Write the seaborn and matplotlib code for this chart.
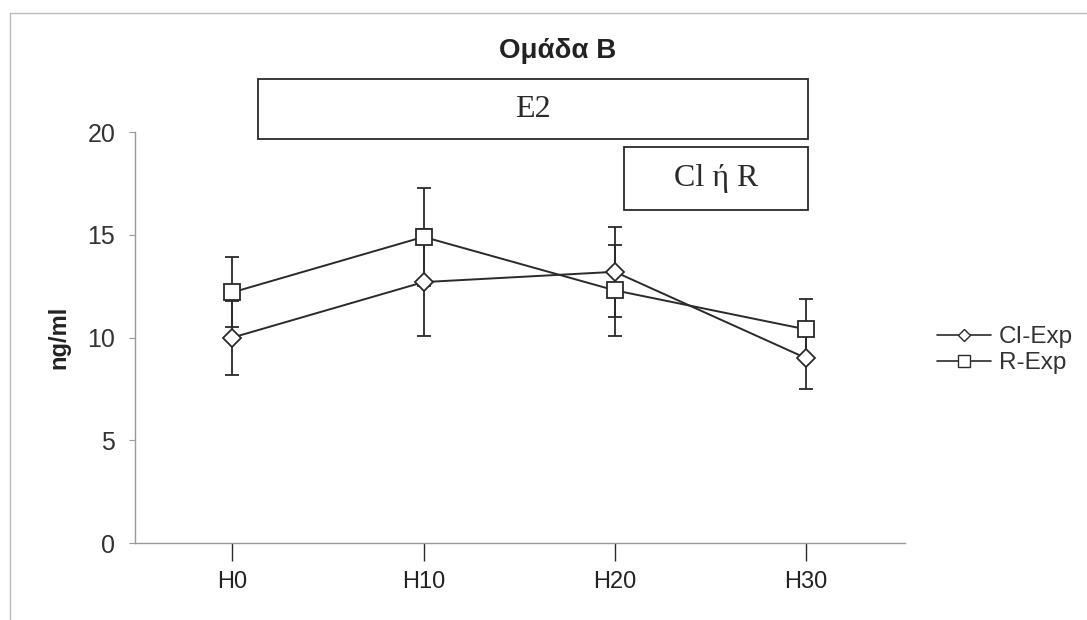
import pandas as pd
import matplotlib
matplotlib.use("Agg")
import matplotlib.pyplot as plt
from matplotlib.patches import Rectangle
from matplotlib.lines import Line2D
import seaborn as sns

sns.set_style("white")
plt.rcParams["font.family"] = ["Liberation Sans", "DejaVu Sans"]

# data
times = ["H0", "H10", "H20", "H30"]
cl_mean = [10.0, 12.7, 13.2, 9.0]
cl_err = [1.8, 2.6, 2.2, 1.5]
r_mean = [12.2, 14.9, 12.3, 10.4]
r_err = [1.7, 2.4, 2.2, 1.5]
series = ["CI-Exp", "R-Exp"]

df = pd.DataFrame({
    "time": times * 2,
    "pos": list(range(len(times))) * 2,
    "value": cl_mean + r_mean,
    "err": cl_err + r_err,
    "series": [series[0]] * 4 + [series[1]] * 4,
})

ink = "#2a2a2a"
fig = plt.figure(figsize=(10.87, 6.2), dpi=100)
ax = fig.add_axes([0.124, 0.124, 0.709, 0.663])

sns.lineplot(data=df, x="pos", y="value", style="series",
             markers={"CI-Exp": "D", "R-Exp": "s"}, dashes=False,
             color=ink, linewidth=1.4, legend=False, ax=ax, zorder=3)
# seaborn sets one size for all markers; tune per series
for ln, ms in zip(ax.lines, [9, 11]):
    ln.set_markersize(ms)
    ln.set_markerfacecolor("white")
    ln.set_markeredgecolor(ink)
    ln.set_markeredgewidth(1.3)

# errorbars are given, so draw them straight from the arrays
for s in series:
    d = df[df["series"] == s]
    ax.errorbar(d["pos"], d["value"], yerr=d["err"], fmt="none",
                ecolor=ink, elinewidth=1.3, capsize=5, capthick=1.3, zorder=2)

ax.set_xlim(-0.51, 3.52)
ax.set_ylim(0, 20)
ax.set_xticks(range(len(times)))
ax.set_xticklabels(times)
ax.set_yticks([0, 5, 10, 15, 20])
ax.tick_params(axis="y", labelsize=18, length=4, color="#999", pad=10, direction="out", left=True,
               labelcolor="#333")
ax.tick_params(axis="x", labelsize=17, length=13, width=1, color=ink, pad=7, direction="out",
               bottom=True, labelcolor="#222")
ax.set_xlabel("")
ax.set_ylabel("ng/ml", fontsize=17, fontweight="bold", labelpad=12, color="#222")
for sp in ["top", "right"]:
    ax.spines[sp].set_visible(False)
for sp in ["left", "bottom"]:
    ax.spines[sp].set_color("#999")
    ax.spines[sp].set_linewidth(1)

# treatment boxes above the plot
serif = ["Liberation Serif", "DejaVu Serif"]
ax.add_patch(Rectangle((0.136, 19.65), 2.875, 2.92, fill=False, edgecolor=ink, lw=1.3, clip_on=False))
ax.text(1.573, 21.1, "E2", ha="center", va="center", fontsize=23, family=serif, color=ink)
ax.add_patch(Rectangle((2.05, 16.22), 0.96, 3.04, fill=False, edgecolor=ink, lw=1.3, clip_on=False))
ax.text(2.53, 17.75, "Cl ή R", ha="center", va="center", fontsize=23, family=serif, color=ink)

# legend
handles = [
    Line2D([], [], color=ink, lw=1.2, marker="D", markersize=6.5, markerfacecolor="white", markeredgecolor=ink),
    Line2D([], [], color=ink, lw=1.2, marker="s", markersize=8, markerfacecolor="white", markeredgecolor=ink),
]
fig.legend(handles, series, loc="center left", bbox_to_anchor=(0.842, 0.435),
           frameon=False, fontsize=17.5, handlelength=2.2, handletextpad=0.35, labelspacing=0.15,
           labelcolor="#333")

fig.text(0.513, 0.918, "Ομάδα B", ha="center", va="center", fontsize=20, fontweight="bold", color="#222")

# faint scan frame
fig.add_artist(Line2D([0.009, 1.0], [0.979, 0.979], color="#bbb", lw=1, transform=fig.transFigure))
fig.add_artist(Line2D([0.009, 0.009], [0.0, 0.979], color="#bbb", lw=1, transform=fig.transFigure))

fig.savefig("out.png", dpi=100, facecolor="white")
